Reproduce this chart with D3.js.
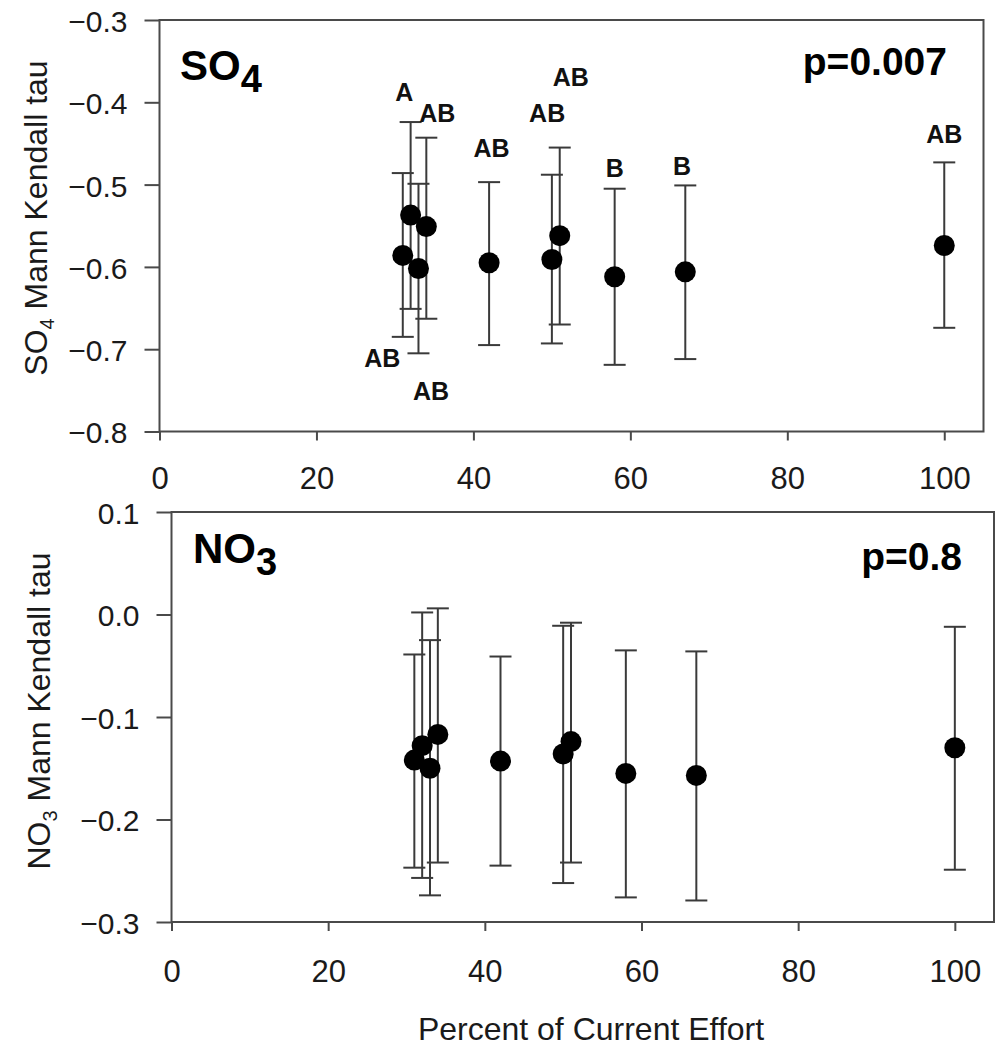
<!DOCTYPE html>
<html>
<head>
<meta charset="utf-8">
<script src="https://cdn.jsdelivr.net/npm/d3@7"></script>
<style>
  html, body { margin: 0; padding: 0; background: #fff; }
  svg { display: block; font-family: "Liberation Sans", Arial, sans-serif; }
</style>
</head>
<body>
<svg id="chart" width="995" height="1049"></svg>
<script>
// ---- data ----
const effort = [31, 32, 33, 34, 42, 50, 51, 58, 67, 100];

const so4Mean  = [-0.586, -0.537, -0.602, -0.551, -0.595, -0.591, -0.562, -0.612, -0.606, -0.574];
const so4Upper = [-0.486, -0.424, -0.499, -0.443, -0.497, -0.488, -0.455, -0.505, -0.501, -0.473];
const so4Lower = [-0.685, -0.651, -0.705, -0.663, -0.695, -0.693, -0.670, -0.719, -0.712, -0.674];
const so4Letters = ["AB", "A", "AB", "AB", "AB", "AB", "AB", "B", "B", "AB"];
const so4LetterX = [28.4, 31.2, 34.6, 35.4, 42.3, 49.4, 52.4, 58.0, 66.6, 100];
const so4LetterY = [-0.711, -0.388, -0.751, -0.413, -0.455, -0.413, -0.369, -0.480, -0.478, -0.439];

const no3Mean  = [-0.142, -0.128, -0.150, -0.117, -0.143, -0.136, -0.124, -0.155, -0.157, -0.130];
const no3Upper = [-0.039, 0.002, -0.025, 0.006, -0.041, -0.011, -0.008, -0.035, -0.036, -0.012];
const no3Lower = [-0.247, -0.257, -0.274, -0.242, -0.245, -0.262, -0.242, -0.276, -0.279, -0.249];

const xTicks = [0, 20, 40, 60, 80, 100];
const so4Ticks = [-0.8, -0.7, -0.6, -0.5, -0.4, -0.3];
const no3Ticks = [-0.3, -0.2, -0.1, 0.0, 0.1];

const xTitle = "Percent of Current Effort";

// ---- drawing ----
const svg = d3.select("#chart");
const axisColor = "#4a4a4a";
const barColor = "#3a3a3a";
const fmt = d3.format(".1f");

function panel(cfg) {
  const x = d3.scaleLinear().domain([0, 105]).range(cfg.xRange);
  const y = d3.scaleLinear().domain(cfg.yDomain).range(cfg.yRange);
  const g = svg.append("g");

  // frame
  g.append("rect")
    .attr("x", cfg.xRange[0]).attr("y", cfg.yRange[1])
    .attr("width", cfg.xRange[1] - cfg.xRange[0])
    .attr("height", cfg.yRange[0] - cfg.yRange[1])
    .attr("fill", "none").attr("stroke", axisColor).attr("stroke-width", 2);

  // y axis
  const ya = g.append("g")
    .attr("transform", `translate(${cfg.xRange[0]},0)`)
    .call(d3.axisLeft(y).tickValues(cfg.yTicks).tickFormat(fmt)
      .tickSize(15).tickSizeOuter(0).tickPadding(17));
  ya.select(".domain").remove();
  ya.selectAll(".tick line").attr("stroke", axisColor).attr("stroke-width", 2);
  ya.selectAll(".tick text").attr("fill", "#1a1a1a")
    .style("font-size", "30px").attr("dy", "0.38em");

  // x axis
  const xa = g.append("g")
    .attr("transform", `translate(0,${cfg.yRange[0]})`)
    .call(d3.axisBottom(x).tickValues(xTicks).tickFormat(d3.format("d"))
      .tickSize(9).tickSizeOuter(0).tickPadding(cfg.xPad));
  xa.select(".domain").remove();
  xa.selectAll(".tick line").attr("stroke", axisColor).attr("stroke-width", 2);
  xa.selectAll(".tick text").attr("fill", "#1a1a1a").style("font-size", "31px");

  // error bars
  const capW = 11;
  const bars = g.append("g").attr("stroke", barColor).attr("stroke-width", 2).attr("fill", "none");
  effort.forEach((e, i) => {
    const cx = x(e), yt = y(cfg.upper[i]), yb = y(cfg.lower[i]);
    bars.append("line").attr("x1", cx).attr("x2", cx).attr("y1", yt).attr("y2", yb);
    bars.append("line").attr("x1", cx - capW).attr("x2", cx + capW).attr("y1", yt).attr("y2", yt);
    bars.append("line").attr("x1", cx - capW).attr("x2", cx + capW).attr("y1", yb).attr("y2", yb);
  });

  // points
  g.append("g").selectAll("circle").data(effort).join("circle")
    .attr("cx", d => x(d))
    .attr("cy", (d, i) => y(cfg.mean[i]))
    .attr("r", 10.5)
    .attr("fill", "#000");

  // letters
  if (cfg.letters) {
    g.append("g").selectAll("text").data(cfg.letters).join("text")
      .attr("x", (d, i) => x(cfg.letterX[i]))
      .attr("y", (d, i) => y(cfg.letterY[i]))
      .attr("dy", "0.36em")
      .attr("text-anchor", "middle")
      .style("font-size", "25px").style("font-weight", "bold")
      .attr("fill", "#111")
      .text(d => d);
  }

  // panel title (chemical)
  const t = g.append("text")
    .attr("x", cfg.titleX).attr("y", cfg.titleY)
    .style("font-size", "42px").style("font-weight", "bold").attr("fill", "#000");
  t.append("tspan").text(cfg.chem);
  t.append("tspan").attr("dy", 12).style("font-size", "38px").text(cfg.sub);

  // p value
  g.append("text")
    .attr("x", cfg.pX).attr("y", cfg.pY)
    .attr("text-anchor", "end")
    .style("font-size", "39px").style("font-weight", "bold").attr("fill", "#000")
    .text(cfg.p);

  // y title
  const yt = g.append("text")
    .attr("transform", `translate(${cfg.yTitleX},${cfg.yTitleY}) rotate(-90)`)
    .attr("text-anchor", "middle")
    .style("font-size", "32px").attr("fill", "#1a1a1a");
  yt.append("tspan").text(cfg.chem);
  yt.append("tspan").attr("dy", 7).style("font-size", "20px").text(cfg.sub);
  yt.append("tspan").attr("dy", -7).text(" Mann Kendall tau");

  return { x, y };
}

panel({
  xRange: [159.5, 983.5], yDomain: [-0.8, -0.3], yRange: [431.5, 20],
  yTicks: so4Ticks, xPad: 26,
  mean: so4Mean, upper: so4Upper, lower: so4Lower,
  letters: so4Letters, letterX: so4LetterX, letterY: so4LetterY,
  chem: "SO", sub: "4", titleX: 180, titleY: 80,
  p: "p=0.007", pX: 947, pY: 75,
  yTitleX: 47, yTitleY: 218
});

panel({
  xRange: [171.5, 994], yDomain: [-0.3, 0.1], yRange: [922, 512],
  yTicks: no3Ticks, xPad: 29,
  mean: no3Mean, upper: no3Upper, lower: no3Lower,
  letters: null,
  chem: "NO", sub: "3", titleX: 193, titleY: 563,
  p: "p=0.8", pX: 962, pY: 570,
  yTitleX: 50, yTitleY: 711
});

svg.append("text")
  .attr("x", 591).attr("y", 1040)
  .attr("text-anchor", "middle")
  .style("font-size", "32px").attr("fill", "#1a1a1a")
  .text(xTitle);
</script>
</body>
</html>
